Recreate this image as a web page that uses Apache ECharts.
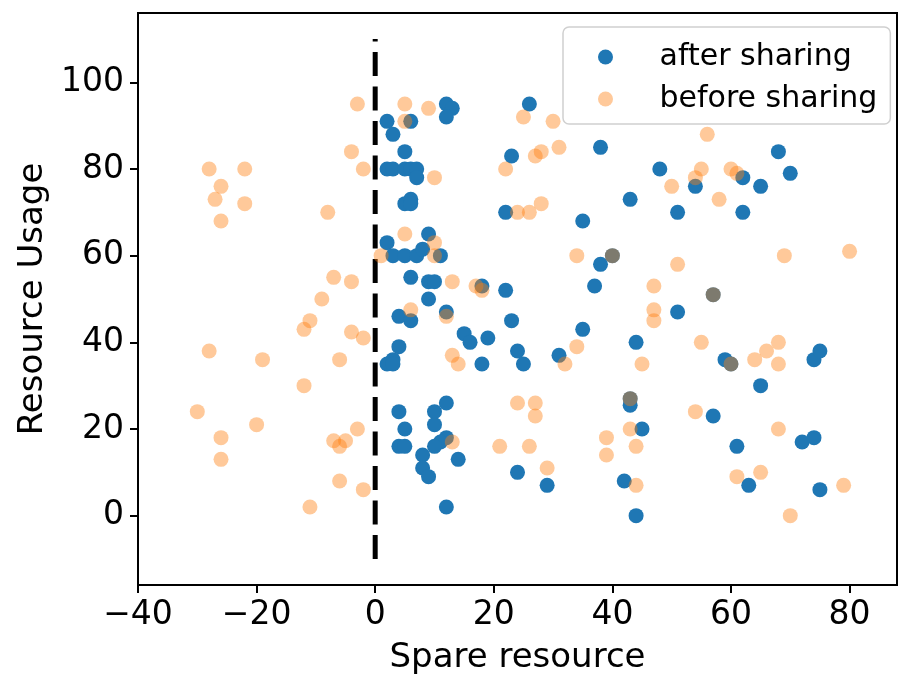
<!DOCTYPE html>
<html>
<head>
<meta charset="utf-8">
<script src="https://cdn.jsdelivr.net/npm/echarts@6/dist/echarts.min.js"></script>
<style>
  html, body { margin: 0; padding: 0; background: #fff; }
  #chart { width: 900px; height: 675px; }
</style>
</head>
<body>
<div id="chart"></div>
<script>
// after sharing (blue) points: [spare resource, resource usage]
const afterSharing = [
  [2, 91], [6, 91], [3, 88], [5, 84], [2, 80], [3, 80], [5, 80], [6, 80], [7, 80], [7, 78],
  [5, 72], [6, 73], [6, 72], [12, 95], [13, 94], [12, 92], [26, 95], [23, 83], [22, 70], [35, 68],
  [38, 85], [43, 73], [48, 80], [51, 70], [54, 76], [62, 78], [62, 70], [65, 76], [68, 84], [70, 79],
  [2, 63], [3, 60], [5, 60], [7, 60], [8, 61.5], [11, 60], [9, 65], [6, 55], [9, 54], [10, 54],
  [9, 50], [12, 47], [4, 46], [6, 45], [4, 39], [2, 35], [3, 36], [3, 35],
  [15, 42], [16, 40], [19, 41], [18, 53], [22, 52], [23, 45], [24, 38], [25, 35], [18, 35], [31, 37],
  [35, 43], [37, 53], [38, 58], [40, 60], [51, 47], [57, 51], [44, 40], [59, 36], [60, 35],
  [74, 36], [75, 38], [65, 30],
  [4, 24], [5, 20], [4, 16], [5, 16], [10, 24], [10, 21], [12, 26], [12, 18], [11, 17], [10, 16],
  [8, 14], [8, 11], [9, 9], [14, 13], [12, 2], [24, 10], [29, 7],
  [43, 25.5], [43, 27], [45, 20], [42, 8], [44, 0], [57, 23], [61, 16], [72, 17], [74, 18], [63, 7], [75, 6]
];

// before sharing (orange) points
const beforeSharing = [
  [-3, 95], [5, 95], [9, 94], [5, 91], [25, 92], [30, 91], [56, 88], [31, 85], [28, 84], [27, 83],
  [-4, 84], [-2, 80], [-28, 80], [-22, 80], [-26, 76], [-27, 73], [-22, 72], [-26, 68], [-8, 70], [10, 78],
  [22, 80], [50, 76], [54, 78], [55, 80], [58, 73], [60, 80], [61, 79], [24, 70], [26, 70], [28, 72],
  [5, 65], [10, 63], [10, 60], [1, 60], [34, 60], [40, 60], [51, 58], [69, 60], [80, 61],
  [-7, 55], [-4, 54], [-9, 50], [13, 54], [17, 53], [18, 52], [47, 53], [57, 51], [47, 47.5], [47, 45],
  [6, 47.5], [12, 46], [-11, 45], [-12, 43], [-4, 42.4], [-2, 41], [55, 40], [34, 39],
  [-28, 38], [-19, 36], [-6, 36], [13, 37], [14, 35], [32, 35], [60, 35], [64, 36], [66, 38], [68, 40],
  [68, 35], [45, 35], [-12, 30],
  [-30, 24], [24, 26], [27, 26], [27, 23], [43, 27], [54, 24], [-20, 21], [-3, 20], [-26, 18], [-26, 13],
  [-7, 17.3], [-5, 17.3], [-6, 16], [13, 17], [21, 16], [26, 16], [29, 11], [39, 18], [39, 14],
  [43, 20], [44, 16], [44, 7], [68, 20], [61, 9], [65, 10], [79, 7], [70, 0], [-6, 8], [-2, 6], [-11, 2]
];

// vertical dashed divider at x = 0
const dividerX = [0, 0];
const dividerY = [-10, 110];

const xTicks = [-40, -20, 0, 20, 40, 60, 80];
const yTicks = [0, 20, 40, 60, 80, 100];

const FONT = 'DejaVu Sans';
const minus = v => String(v).replace('-', '\u2212');

const chart = echarts.init(document.getElementById('chart'));

chart.setOption({
  animation: false,
  textStyle: { fontFamily: FONT },
  grid: {
    left: 138, right: 3, top: 13, bottom: 90,
    outerBoundsMode: 'none',
    containLabel: false,
    show: true, borderColor: '#000', borderWidth: 2
  },
  legend: {
    orient: 'vertical',
    left: 563, top: 27,
    padding: [15, 13, 10, 35],
    itemGap: 12,
    itemWidth: 60, itemHeight: 15,
    borderColor: '#d0d0d0', borderWidth: 1.5, borderRadius: 6,
    backgroundColor: 'rgba(255,255,255,0.8)',
    // leading spacer pushes the label away from the marker, as in the original
    formatter: '{pad| }{name}',
    textStyle: {
      fontFamily: FONT, fontSize: 30, color: '#000',
      rich: {
        pad: { width: 19, fontSize: 30 },
        name: { fontFamily: FONT, fontSize: 30, color: '#000' }
      }
    },
    data: ['after sharing', 'before sharing']
  },
  xAxis: {
    type: 'value',
    min: -40, max: 88,
    name: 'Spare resource',
    nameLocation: 'middle',
    nameGap: 56,
    nameTextStyle: { fontFamily: FONT, fontSize: 34, color: '#000' },
    axisLine: { onZero: false, lineStyle: { color: '#000', width: 2 } },
    axisTick: { customValues: xTicks, length: 8, inside: false, lineStyle: { color: '#000', width: 2 } },
    axisLabel: { customValues: xTicks, formatter: minus, fontSize: 33, color: '#000', margin: 14 },
    splitLine: { show: false }
  },
  yAxis: {
    type: 'value',
    min: -16, max: 116,
    name: 'Resource Usage',
    nameLocation: 'middle',
    nameGap: 86,
    nameTextStyle: { fontFamily: FONT, fontSize: 34, color: '#000' },
    axisLine: { show: true, onZero: false, lineStyle: { color: '#000', width: 2 } },
    axisTick: { show: true, customValues: yTicks, length: 8, lineStyle: { color: '#000', width: 2 } },
    axisLabel: { customValues: yTicks, formatter: minus, fontSize: 33, color: '#000', margin: 14 },
    splitLine: { show: false }
  },
  series: [
    {
      name: 'divider',
      type: 'line',
      data: dividerX.map((x, i) => [x, dividerY[i]]),
      symbol: 'none',
      silent: true,
      lineStyle: { color: '#000', width: 5, type: [24, 10.5] },
      z: 1
    },
    {
      name: 'after sharing',
      type: 'scatter',
      data: afterSharing,
      symbol: 'circle',
      symbolSize: 15,
      itemStyle: { color: '#1f77b4', opacity: 1 },
      z: 2
    },
    {
      name: 'before sharing',
      type: 'scatter',
      data: beforeSharing,
      symbol: 'circle',
      symbolSize: 15,
      itemStyle: { color: '#ff7f0e', opacity: 0.42 },
      z: 3
    }
  ]
});
</script>
</body>
</html>
